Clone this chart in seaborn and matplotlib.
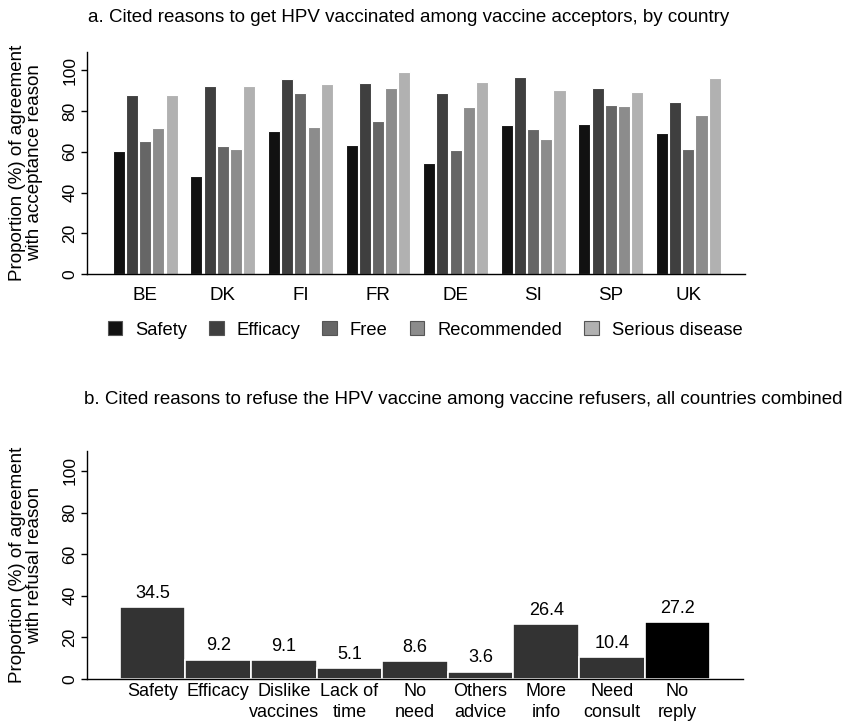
import numpy as np
import pandas as pd
import seaborn as sns
import matplotlib.pyplot as plt
from matplotlib.patches import Patch

# Data - panel a
countries = ['BE', 'DK', 'FI', 'FR', 'DE', 'SI', 'SP', 'UK']
reasons_a = ['Safety', 'Efficacy', 'Free', 'Recommended', 'Serious disease']
safety = [60.2, 47.9, 70.4, 63.4, 54.5, 73.3, 73.8, 69.1]
efficacy = [87.7, 92.5, 95.8, 93.6, 89.0, 96.7, 91.3, 84.3]
free = [65.5, 62.7, 88.9, 75.3, 60.9, 71.0, 82.8, 61.5]
recommended = [71.7, 61.2, 72.0, 91.3, 82.0, 66.1, 82.7, 78.2]
serious = [87.7, 92.1, 93.3, 99.4, 94.4, 90.2, 89.4, 96.1]
colors_a = ['#111111', '#3f3f3f', '#666666', '#8c8c8c', '#b1b1b1']

# Data - panel b
reasons_b = ['Safety', 'Efficacy', 'Dislike\nvaccines', 'Lack of\ntime', 'No\nneed',
             'Others\nadvice', 'More\ninfo', 'Need\nconsult', 'No\nreply']
refusal = [34.5, 9.2, 9.1, 5.1, 8.6, 3.6, 26.4, 10.4, 27.2]
colors_b = ['#333333'] * 8 + ['#000000']

sns.set_style('white')
plt.rcParams['font.family'] = ['Liberation Sans', 'DejaVu Sans']
plt.rcParams['text.color'] = 'black'
plt.rcParams['axes.labelcolor'] = 'black'
plt.rcParams['xtick.color'] = 'black'
plt.rcParams['ytick.color'] = 'black'

df_a = pd.DataFrame({
    'country': np.repeat(countries, len(reasons_a)),
    'reason': reasons_a * len(countries),
    'value': np.array([safety, efficacy, free, recommended, serious]).T.ravel(),
})

fig = plt.figure(figsize=(8.45, 7.23), dpi=100)
ax1 = fig.add_axes([87 / 845, 1 - 274 / 723, 658 / 845, 222 / 723])
ax2 = fig.add_axes([87 / 845, 1 - 679 / 723, 656 / 845, 228 / 723])

# Panel a
sns.barplot(data=df_a, x='country', y='value', hue='reason', palette=colors_a,
            width=0.85, gap=0.08, edgecolor='white', linewidth=0.8,
            legend=False, ax=ax1)
ax1.set_xlim(-0.75, 7.73)
ax1.set_ylim(0, 109)
ax1.set_yticks([0, 20, 40, 60, 80, 100])
ax1.set_xlabel('')
ax1.set_ylabel('Proportion (%) of agreement\nwith acceptance reason', fontsize=13.5, labelpad=14,
               linespacing=0.95)
ax1.tick_params(axis='x', length=0, labelsize=13.5, pad=9)
ax1.tick_params(axis='y', length=4, width=1, labelsize=12.5, pad=3, left=True)
for lab in ax1.get_yticklabels():
    lab.set_rotation(90)
    lab.set_va('center')
sns.despine(ax=ax1)
for s in ['left', 'bottom']:
    ax1.spines[s].set_color('black')
    ax1.spines[s].set_linewidth(1)

handles = [Patch(facecolor=c, edgecolor='#555555', linewidth=0.8) for c in colors_a]
fig.legend(handles, reasons_a, loc='center', bbox_to_anchor=(425 / 845, 1 - 330 / 723),
           ncol=5, frameon=False, fontsize=13.2, handlelength=0.8, handleheight=0.8,
           handletextpad=0.7, columnspacing=1.2)

fig.text(409 / 845, 1 - 17 / 723,
         'a. Cited reasons to get HPV vaccinated among vaccine acceptors, by country',
         ha='center', va='center', fontsize=13.5)

# Panel b
sns.barplot(x=reasons_b, y=refusal, hue=reasons_b, palette=colors_b, width=1.0,
            edgecolor='white', linewidth=1.2, legend=False, ax=ax2)
ax2.set_xlim(-1, 9)
ax2.set_ylim(0, 109.6)
ax2.set_yticks([0, 20, 40, 60, 80, 100])
ax2.set_xticks(range(len(reasons_b)), labels=reasons_b, linespacing=1.3)
for cont in ax2.containers:
    ax2.bar_label(cont, fmt='%.1f', padding=4, fontsize=13)
ax2.set_ylabel('Proportion (%) of agreement\nwith refusal reason', fontsize=13.5, labelpad=14,
               linespacing=0.95)
ax2.tick_params(axis='x', length=0, labelsize=13, pad=3)
ax2.tick_params(axis='y', length=4, width=1, labelsize=12.5, pad=3, left=True)
for lab in ax2.get_yticklabels():
    lab.set_rotation(90)
    lab.set_va('center')
sns.despine(ax=ax2)
for s in ['left', 'bottom']:
    ax2.spines[s].set_color('black')
    ax2.spines[s].set_linewidth(1)

fig.text(463 / 845, 1 - 400 / 723,
         'b. Cited reasons to refuse the HPV vaccine among vaccine refusers, all countries combined',
         ha='center', va='center', fontsize=13.5)

fig.savefig('out.png', dpi=100)
